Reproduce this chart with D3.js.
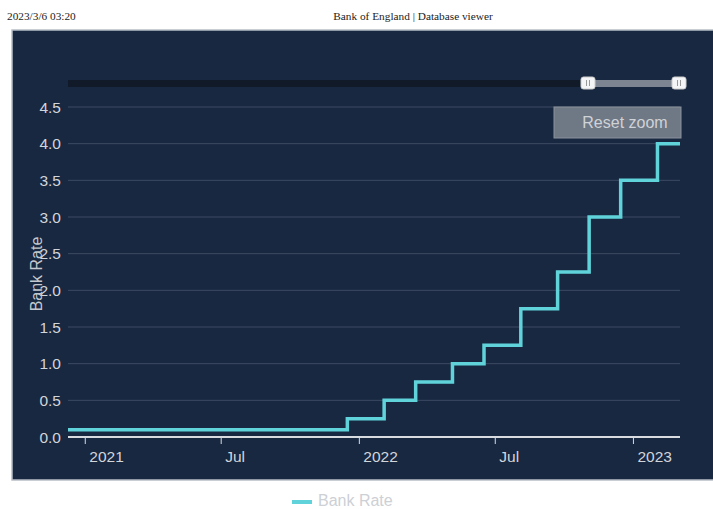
<!DOCTYPE html>
<html>
<head>
<meta charset="utf-8">
<script src="https://cdn.jsdelivr.net/npm/d3@7"></script>
<style>
  body { margin: 0; background: #fff; }
  svg { display: block; }
</style>
</head>
<body>
<svg id="chart" width="713" height="509"></svg>
<script>
// Bank Rate change dates and levels (step series)
const rateDates = ['2020-12-09', '2021-12-16', '2022-02-03', '2022-03-17', '2022-05-05', '2022-06-16',
                   '2022-08-04', '2022-09-22', '2022-11-03', '2022-12-15', '2023-02-02', '2023-03-04'];
const rateValues = [0.1, 0.25, 0.5, 0.75, 1.0, 1.25, 1.75, 2.25, 3.0, 3.5, 4.0, 4.0];
const yTicks = [0, 0.5, 1, 1.5, 2, 2.5, 3, 3.5, 4, 4.5];
const xTickDates = ['2021-01-01', '2021-07-01', '2022-01-01', '2022-07-01', '2023-01-01'];
const xTickLabels = ['2021', 'Jul', '2022', 'Jul', '2023'];
const seriesName = 'Bank Rate';

const parse = d3.timeParse('%Y-%m-%d');
const data = rateDates.map((d, i) => ({ date: parse(d), value: rateValues[i] }));

const svg = d3.select('#chart');
const sans = 'Liberation Sans, Arial, sans-serif';
const serif = 'Liberation Serif, Times New Roman, serif';

// page header (printed page)
svg.append('text').attr('x', 7).attr('y', 20)
    .attr('font-family', serif).attr('font-size', 11.3)
    .attr('fill', '#222').text('2023/3/6 03:20');
svg.append('text').attr('x', 413).attr('y', 20).attr('text-anchor', 'middle')
    .attr('font-family', serif).attr('font-size', 11.3)
    .attr('fill', '#222').text('Bank of England | Database viewer');

// dark chart panel
svg.append('rect').attr('x', 12).attr('y', 30).attr('width', 705).attr('height', 450)
    .attr('fill', '#192841').attr('stroke', '#b8bec8').attr('stroke-width', 1.5);

const plotLeft = 68, plotRight = 680, plotTop = 107, plotBottom = 437;

const x = d3.scaleTime()
    .domain([parse('2020-12-09'), parse('2023-03-04')])
    .range([plotLeft, plotRight]);
const y = d3.scaleLinear().domain([0, 4.5]).range([plotBottom, plotTop]);

// navigator
svg.append('rect').attr('x', plotLeft).attr('y', 80).attr('width', plotRight - plotLeft).attr('height', 7)
    .attr('fill', '#101a29');
svg.append('rect').attr('x', 588).attr('y', 80).attr('width', 90).attr('height', 7)
    .attr('fill', '#7c8591');
[588, 679].forEach(hx => {
    svg.append('rect').attr('x', hx - 7).attr('y', 77).attr('width', 14).attr('height', 12)
        .attr('rx', 2.5).attr('fill', '#f4f5f7').attr('stroke', '#ccc');
    [-1.5, 1.5].forEach(dx => {
        svg.append('line').attr('x1', hx + dx).attr('x2', hx + dx).attr('y1', 80).attr('y2', 86)
            .attr('stroke', '#999').attr('stroke-width', 1);
    });
});

// grid lines + y labels
yTicks.forEach(t => {
    if (t > 0) {
        svg.append('line').attr('x1', plotLeft).attr('x2', plotRight)
            .attr('y1', y(t)).attr('y2', y(t))
            .attr('stroke', '#3c4b62').attr('stroke-width', 1);
    }
    svg.append('text').attr('x', 61).attr('y', y(t) + 5.5).attr('text-anchor', 'end')
        .attr('font-family', sans).attr('font-size', 15.5).attr('fill', '#d2d5da')
        .text(t.toFixed(1));
});

// y axis title
svg.append('text')
    .attr('transform', `translate(42,274) rotate(-90)`)
    .attr('text-anchor', 'middle')
    .attr('font-family', sans).attr('font-size', 16).attr('fill', '#c4c8ce')
    .text(seriesName);

// x axis
svg.append('line').attr('x1', plotLeft).attr('x2', plotRight).attr('y1', plotBottom).attr('y2', plotBottom)
    .attr('stroke', '#d8dbe0').attr('stroke-width', 2);
xTickDates.forEach((d, i) => {
    const tx = x(parse(d));
    svg.append('line').attr('x1', tx).attr('x2', tx).attr('y1', plotBottom).attr('y2', plotBottom + 7)
        .attr('stroke', '#d8dbe0').attr('stroke-width', 1);
    svg.append('text').attr('x', tx + 4).attr('y', 462).attr('text-anchor', 'start')
        .attr('font-family', sans).attr('font-size', 15.5).attr('fill', '#d2d5da')
        .text(xTickLabels[i]);
});

// the series
const line = d3.line()
    .x(d => x(d.date))
    .y(d => y(d.value))
    .curve(d3.curveStepAfter);
svg.append('path').datum(data)
    .attr('d', line)
    .attr('fill', 'none')
    .attr('stroke', '#5fd3d9')
    .attr('stroke-width', 3.5);

// reset zoom button
svg.append('rect').attr('x', 554).attr('y', 107).attr('width', 127).attr('height', 31)
    .attr('fill', '#6f7885').attr('stroke', '#8a929c').attr('stroke-width', 1);
svg.append('text').attr('x', 625).attr('y', 128).attr('text-anchor', 'middle')
    .attr('font-family', sans).attr('font-size', 16).attr('fill', '#cfd2d7')
    .text('Reset zoom');

// legend
svg.append('line').attr('x1', 292).attr('x2', 312).attr('y1', 502).attr('y2', 502)
    .attr('stroke', '#5fd3d9').attr('stroke-width', 4);
svg.append('text').attr('x', 318).attr('y', 506)
    .attr('font-family', sans).attr('font-size', 16).attr('fill', '#cdd0d5')
    .text(seriesName);
</script>
</body>
</html>
